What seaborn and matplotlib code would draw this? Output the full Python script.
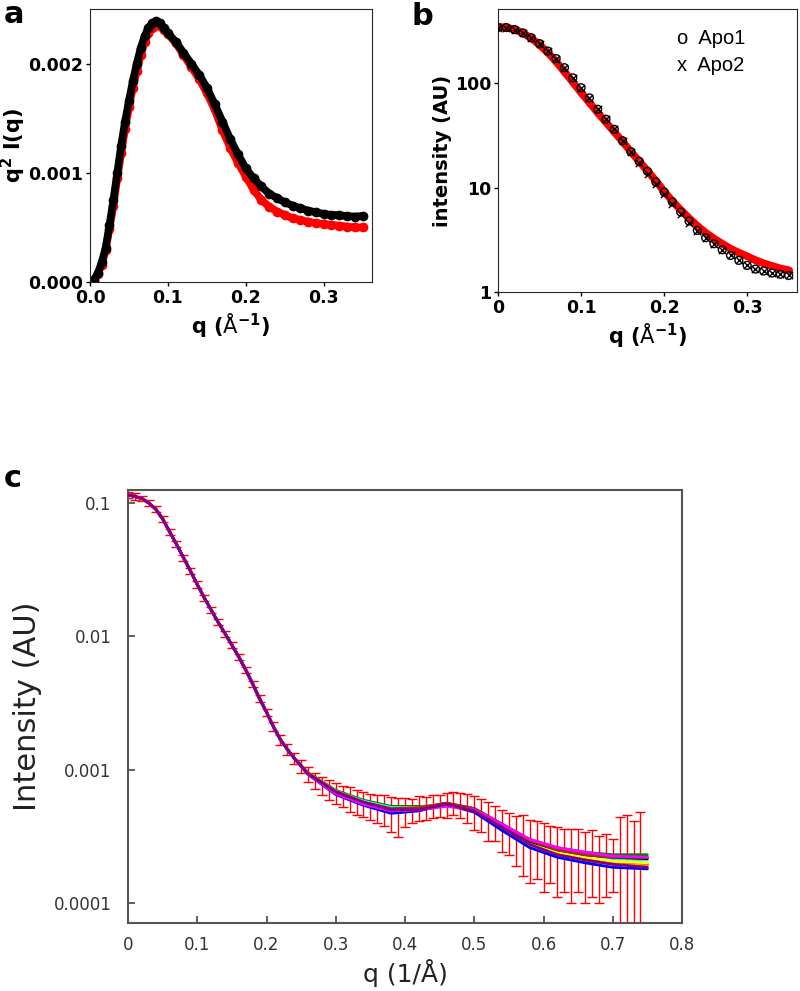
import numpy as np
import pandas as pd
import seaborn as sns
import matplotlib.pyplot as plt
from matplotlib.ticker import FixedLocator, NullLocator

sns.set_style('ticks')
plt.rcParams['font.family'] = ['DejaVu Sans']
plt.rcParams['mathtext.default'] = 'regular'
plt.rcParams['text.color'] = 'black'
plt.rcParams['axes.labelcolor'] = 'black'
plt.rcParams['xtick.color'] = 'black'
plt.rcParams['ytick.color'] = 'black'

# ---------- panel a: Kratky plot, q^2 I(q) ----------
q_a = [0.0, 0.005, 0.01, 0.015, 0.02, 0.025, 0.03, 0.035, 0.04, 0.045, 0.05, 0.055,
       0.06, 0.065, 0.07, 0.075, 0.08, 0.085, 0.09, 0.095, 0.10, 0.11, 0.12, 0.13,
       0.14, 0.15, 0.16, 0.17, 0.18, 0.19, 0.20, 0.21, 0.22, 0.23, 0.24, 0.25,
       0.26, 0.27, 0.28, 0.29, 0.30, 0.31, 0.32, 0.33, 0.34, 0.35]
kratky_black = [0.0, 0.00002, 0.00008, 0.00018, 0.00031, 0.00052, 0.00075, 0.00100,
                0.00125, 0.00147, 0.00166, 0.00184, 0.00200, 0.00214, 0.00225, 0.00233,
                0.00237, 0.00239, 0.00237, 0.00233, 0.00228, 0.00220, 0.00210, 0.00200,
                0.00190, 0.00178, 0.00163, 0.00147, 0.00131, 0.00117, 0.00104, 0.00095,
                0.000875, 0.00081, 0.00077, 0.00073, 0.00070, 0.000676, 0.000654,
                0.00064, 0.000624, 0.000615, 0.000612, 0.000603, 0.0006, 0.000605]
kratky_red = [0.0, 0.00002, 0.00007, 0.00016, 0.00029, 0.00049, 0.00070, 0.00095,
              0.00118, 0.00140, 0.00160, 0.00178, 0.00193, 0.00208, 0.00220, 0.00228,
              0.00233, 0.00235, 0.00234, 0.00231, 0.00227, 0.00219, 0.00208, 0.00197,
              0.00186, 0.00173, 0.00158, 0.00139, 0.00123, 0.00109, 0.000966, 0.000844,
              0.000752, 0.00069, 0.000645, 0.000615, 0.000584, 0.000569, 0.000553,
              0.000538, 0.000532, 0.000523, 0.000517, 0.000508, 0.0005, 0.0005]

# ---------- panel b: intensity, log scale ----------
q_b = [0.00, 0.01, 0.02, 0.03, 0.04, 0.05, 0.06, 0.07, 0.08, 0.09, 0.10, 0.11,
       0.12, 0.13, 0.14, 0.15, 0.16, 0.17, 0.18, 0.19, 0.20, 0.21, 0.22, 0.23,
       0.24, 0.25, 0.26, 0.27, 0.28, 0.29, 0.30, 0.31, 0.32, 0.33, 0.34, 0.35]
apo1 = [339, 339, 324, 301, 271, 238, 202, 171, 140, 112, 90, 72, 56, 45, 36, 28,
        22, 17.8, 14.3, 11.3, 9.06, 7.27, 5.83, 4.78, 3.89, 3.31, 2.90, 2.54, 2.24,
        2.01, 1.80, 1.66, 1.59, 1.52, 1.48, 1.44]
apo2 = [339, 339, 324, 301, 271, 238, 202, 171, 139, 112, 90, 72, 56, 45, 36, 28,
        22, 17.2, 13.6, 10.7, 8.6, 6.9, 5.55, 4.6, 3.85, 3.31, 2.90, 2.54, 2.24,
        2.01, 1.80, 1.66, 1.59, 1.52, 1.48, 1.44]
fit_b = [345, 340, 325, 300, 268, 232, 195, 160, 128, 102, 81, 65, 52, 42, 34, 27.5,
         22, 17.8, 14.4, 11.6, 9.2, 7.4, 6.1, 5.1, 4.3, 3.7, 3.25, 2.9, 2.6, 2.38,
         2.2, 2.02, 1.88, 1.78, 1.68, 1.62]

# ---------- panel c: data with error bars and ensemble fits ----------
q_c = [0.00, 0.01, 0.02, 0.03, 0.04, 0.05, 0.06, 0.07, 0.08, 0.09, 0.10, 0.11, 0.12,
       0.13, 0.14, 0.15, 0.16, 0.17, 0.18, 0.19, 0.20, 0.21, 0.22, 0.23, 0.24, 0.25,
       0.26, 0.27, 0.28, 0.29, 0.30, 0.31, 0.32, 0.33, 0.34, 0.35, 0.36, 0.37, 0.38,
       0.39, 0.40, 0.41, 0.42, 0.43, 0.44, 0.45, 0.46, 0.47, 0.48, 0.49, 0.50, 0.51,
       0.52, 0.53, 0.54, 0.55, 0.56, 0.57, 0.58, 0.59, 0.60, 0.61, 0.62, 0.63, 0.64,
       0.65, 0.66, 0.67, 0.68, 0.69, 0.70, 0.71, 0.72, 0.73, 0.74]
i_c = [0.115, 0.112, 0.108, 0.100, 0.090, 0.076, 0.061, 0.049, 0.039, 0.031, 0.0245,
       0.0195, 0.0158, 0.0128, 0.0105, 0.0086, 0.0070, 0.0056, 0.0044, 0.0034, 0.0027,
       0.0021, 0.00168, 0.00142, 0.00122, 0.00106, 0.00093, 0.00083, 0.00076, 0.00071,
       0.00067, 0.00064, 0.00061, 0.00058, 0.00056, 0.00054, 0.00052, 0.00051, 0.00048,
       0.00046, 0.00049, 0.00050, 0.00052, 0.00052, 0.00054, 0.00054, 0.00055, 0.00057,
       0.00055, 0.00053, 0.00049, 0.00047, 0.00043, 0.00041, 0.00037, 0.00035, 0.00032,
       0.00031, 0.00028, 0.00028, 0.00026, 0.00026, 0.00024, 0.00024, 0.00023, 0.00024,
       0.00022, 0.00023, 0.00021, 0.00022, 0.00021, 0.00020, 0.00021, 0.00019, 0.00020]
err_c = [0.006, 0.006, 0.005, 0.005, 0.0045, 0.004, 0.003, 0.0025, 0.002, 0.0016,
         0.0013, 0.001, 0.0008, 0.00065, 0.00055, 0.00045, 0.00038, 0.00031, 0.00025,
         0.0002, 0.00017, 0.00016, 0.00014, 0.00013, 0.00012, 0.00012, 0.00012,
         0.00012, 0.00012, 0.00012, 0.00012, 0.00012, 0.00013, 0.00012, 0.00012,
         0.00012, 0.00012, 0.00013, 0.00014, 0.00015, 0.00012, 0.00010, 0.00011,
         0.00010, 0.00011, 0.00010, 0.00012, 0.00011, 0.00012, 0.00013, 0.00014,
         0.00013, 0.00014, 0.00012, 0.00013, 0.00012, 0.00013, 0.00015, 0.00014,
         0.00013, 0.00014, 0.00012, 0.00013, 0.00012, 0.00013, 0.00012, 0.00012,
         0.00012, 0.00011, 0.00011, 0.00009, 0.00024, 0.00025, 0.00022, 0.00028]

# ensemble fits share the low-q part, spread at high q
q_fit_head = q_c[:25]
i_fit_head = i_c[:25]
q_fit_tail = [0.26, 0.30, 0.34, 0.38, 0.42, 0.46, 0.50, 0.54, 0.58, 0.62, 0.66, 0.70, 0.75]
fit_tails = {
    'green':   [9.5, 7.0, 5.9, 5.3, 5.3, 5.4, 5.0, 3.9, 3.0, 2.6, 2.4, 2.3, 2.3],
    'red':     [9.3, 6.8, 5.6, 5.0, 5.1, 5.5, 4.9, 3.7, 2.8, 2.35, 2.15, 2.0, 1.95],
    'cyan':    [9.4, 6.9, 5.8, 5.2, 5.2, 5.4, 4.9, 3.8, 2.9, 2.5, 2.3, 2.15, 2.1],
    'yellow':  [9.4, 6.9, 5.7, 5.1, 5.2, 5.6, 5.0, 3.8, 2.85, 2.4, 2.2, 2.05, 2.0],
    'black':   [9.3, 6.7, 5.6, 4.9, 5.1, 5.6, 5.1, 3.9, 2.9, 2.5, 2.3, 2.2, 2.15],
    'orange':  [9.2, 6.6, 5.5, 4.9, 5.0, 5.4, 4.8, 3.6, 2.7, 2.3, 2.1, 1.95, 1.9],
    'brown':   [9.4, 6.9, 5.7, 5.1, 5.2, 5.6, 5.1, 3.9, 2.95, 2.5, 2.3, 2.2, 2.2],
    'blue':    [9.2, 6.5, 5.4, 4.7, 4.9, 5.5, 4.8, 3.5, 2.6, 2.2, 2.0, 1.85, 1.8],
    'magenta': [9.2, 6.6, 5.5, 4.9, 5.0, 5.3, 5.0, 3.9, 3.0, 2.6, 2.4, 2.25, 2.2],
    'purple':  [9.3, 6.8, 5.7, 5.0, 5.0, 5.5, 4.9, 3.7, 2.75, 2.3, 2.1, 1.95, 1.85],
}

fig = plt.figure(figsize=(8, 9.91), dpi=100)
ax_a = fig.add_axes([0.1125, 0.7154, 0.3525, 0.2755])
ax_b = fig.add_axes([0.6225, 0.7053, 0.37375, 0.2856])
ax_c = fig.add_axes([0.16, 0.0686, 0.6925, 0.4369])

bold = dict(fontweight='bold')

# panel a
df_a = pd.DataFrame({'q': q_a * 2, 'val': kratky_red + kratky_black,
                     'set': ['red'] * len(q_a) + ['black'] * len(q_a)})
sns.lineplot(data=df_a, x='q', y='val', hue='set', palette={'red': 'red', 'black': 'black'},
             marker='o', markersize=7, markeredgewidth=0, linewidth=5.5, legend=False,
             sort=False, ax=ax_a)
ax_a.set_xlim(0, 0.362)
ax_a.set_ylim(0, 0.0025)
ax_a.set_xticks([0.0, 0.1, 0.2, 0.3])
ax_a.set_xticklabels(['0.0', '0.1', '0.2', '0.3'], fontsize=12.5, **bold)
ax_a.set_yticks([0.0, 0.001, 0.002])
ax_a.set_yticklabels(['0.000', '0.001', '0.002'], fontsize=12.5, **bold)
ax_a.set_xlabel(r'q ($\mathrm{\AA}^{-1}$)', fontsize=15, labelpad=3, **bold)
ax_a.set_ylabel(r'q$^{2}$ I(q)', fontsize=15, labelpad=0, **bold)
ax_a.tick_params(direction='out', length=3, width=1, pad=2)

# panel b
df_b = pd.DataFrame({'q': q_b, 'fit': fit_b, 'apo1': apo1, 'apo2': apo2})
sns.lineplot(data=df_b, x='q', y='fit', color='red', linewidth=5.5, marker='o',
             markersize=5, markeredgewidth=0, ax=ax_b)
ax_b.scatter(q_b, apo2, marker='x', s=28, color='black', linewidths=1.0, zorder=3)
ax_b.scatter(q_b, apo1, marker='o', s=32, facecolors='none', edgecolors='black',
             linewidths=1.0, zorder=4)
ax_b.set_yscale('log')
ax_b.set_xlim(0, 0.36)
ax_b.set_ylim(1, 510)
ax_b.set_xticks([0, 0.1, 0.2, 0.3])
ax_b.set_xticklabels(['0', '0.1', '0.2', '0.3'], fontsize=12.5, **bold)
ax_b.yaxis.set_major_locator(FixedLocator([1, 10, 100]))
ax_b.yaxis.set_minor_locator(NullLocator())
ax_b.set_yticklabels(['1', '10', '100'], fontsize=12.5, **bold)
ax_b.set_xlabel(r'q ($\mathrm{\AA}^{-1}$)', fontsize=15, labelpad=3, **bold)
ax_b.set_ylabel('intensity (AU)', fontsize=14, labelpad=2, **bold)
ax_b.tick_params(direction='out', length=3, width=1, pad=2)
ax_b.text(0.6, 0.875, 'o  Apo1', transform=ax_b.transAxes, fontsize=14.5,
          family='Liberation Sans')
ax_b.text(0.6, 0.78, 'x  Apo2', transform=ax_b.transAxes, fontsize=14.5,
          family='Liberation Sans')

# panel c
ax_c.set_yscale('log')
ax_c.errorbar(q_c, i_c, yerr=err_c, fmt='none', ecolor='red', elinewidth=1.0,
              capsize=3.5, capthick=1.0, zorder=2)
for color, tail in fit_tails.items():
    q_fit = q_fit_head + q_fit_tail
    i_fit = i_fit_head + [v * 1e-4 for v in tail]
    sns.lineplot(x=q_fit, y=i_fit, color=color, linewidth=2, sort=False,
                 ax=ax_c, zorder=3)
ax_c.set_xlim(0, 0.8)
ax_c.set_ylim(7.07e-5, 0.125)
ax_c.set_xticks([0, 0.1, 0.2, 0.3, 0.4, 0.5, 0.6, 0.7, 0.8])
ax_c.set_xticklabels(['0', '0.1', '0.2', '0.3', '0.4', '0.5', '0.6', '0.7', '0.8'],
                     fontsize=12, color='#333333')
ax_c.yaxis.set_major_locator(FixedLocator([0.0001, 0.001, 0.01, 0.1]))
ax_c.yaxis.set_minor_locator(NullLocator())
ax_c.set_yticklabels(['0.0001', '0.001', '0.01', '0.1'], fontsize=12, color='#333333')
ax_c.tick_params(direction='in', length=5, width=1.2, color='#444444', pad=12)
ax_c.tick_params(axis='x', pad=9)
ax_c.set_xlabel('q (1/Å)', fontsize=18, color='#222222')
ax_c.xaxis.set_label_coords(0.5, -0.083)
ax_c.set_ylabel('Intensity (AU)', fontsize=22, color='#222222', labelpad=8)
for sp in ax_c.spines.values():
    sp.set_color('#555555')
    sp.set_linewidth(1.5)

# panel letters
fig.text(0.005, 0.985, 'a', fontsize=22, fontweight='bold', va='center')
fig.text(0.515, 0.983, 'b', fontsize=22, fontweight='bold', va='center')
fig.text(0.005, 0.517, 'c', fontsize=22, fontweight='bold', va='center')

fig.savefig('out.png', dpi=100)
